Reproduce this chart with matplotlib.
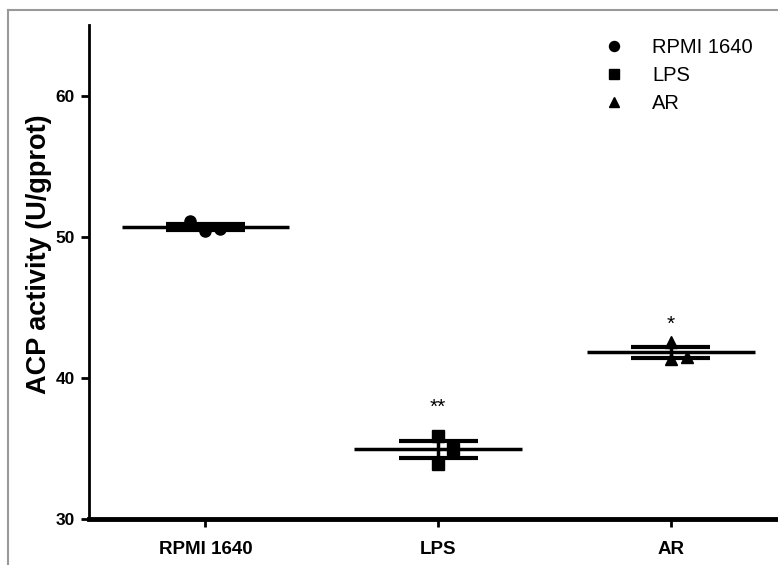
import matplotlib
matplotlib.use('Agg')
import matplotlib.pyplot as plt
import numpy as np

# ===== data =====
groups = ['RPMI 1640', 'LPS', 'AR']
rpmi_vals = [51.13, 50.38, 50.55]
lps_vals = [35.90, 33.92, 34.96]
ar_vals = [42.55, 41.35, 41.50]
sig_marks = ['', '**', '*']

values = [rpmi_vals, lps_vals, ar_vals]
markers = ['o', 's', '^']
jitter = [[-0.064, 0.0, 0.064], [0.0, 0.0, 0.064], [0.0, 0.0, 0.068]]
sig_y = [None, 37.9, 43.8]

plt.rcParams['font.family'] = ['Liberation Sans', 'DejaVu Sans']

fig = plt.figure(figsize=(7.78, 5.65), dpi=100)
ax = fig.add_axes([0.1144, 0.0814, 0.8856, 0.8744])

for i, vals in enumerate(values):
    vals = np.array(vals)
    m = vals.mean()
    sem = vals.std(ddof=1) / np.sqrt(len(vals))
    xs = i + np.array(jitter[i])
    ax.plot(xs, vals, ls='none', marker=markers[i], color='black', ms=8,
            label=groups[i], zorder=3)
    # mean line
    ax.hlines(m, i - 0.36, i + 0.36, color='black', lw=2.5, zorder=4)
    # SEM bars
    ax.hlines([m - sem, m + sem], i - 0.17, i + 0.17, color='black', lw=3, zorder=4)
    ax.vlines(i, m - sem, m + sem, color='black', lw=2.5, zorder=4)
    if sig_marks[i]:
        ax.text(i, sig_y[i], sig_marks[i], ha='center', va='center', fontsize=15)

ax.set_xlim(-0.5, 2.46)
ax.set_ylim(30, 65)
ax.set_yticks([30, 40, 50, 60])
ax.set_xticks(range(3))
ax.set_xticklabels(groups, fontsize=13.5, fontweight='bold')
for lbl in ax.get_yticklabels():
    lbl.set_fontsize(12.5)
    lbl.set_fontweight('bold')
ax.set_ylabel('ACP activity (U/gprot)', fontsize=19.5, fontweight='bold')
ax.yaxis.set_label_coords(-0.054, 0.536)

ax.spines['top'].set_visible(False)
ax.spines['right'].set_visible(False)
ax.spines['left'].set_linewidth(2)
ax.spines['bottom'].set_linewidth(3.5)
ax.tick_params(axis='both', direction='out', length=6, width=2, pad=4)
ax.tick_params(axis='x', pad=10)

ax.legend(loc='upper right', bbox_to_anchor=(0.99, 1.01), frameon=False,
          fontsize=14.5, handletextpad=0.9, labelspacing=0.45, markerscale=0.9)

# grey frame of the original panel
fig.add_artist(plt.Line2D([8 / 778, 1.0], [1 - 10 / 565, 1 - 10 / 565],
                          transform=fig.transFigure, color='#999999', lw=1.5))
fig.add_artist(plt.Line2D([8 / 778, 8 / 778], [0, 1 - 10 / 565],
                          transform=fig.transFigure, color='#999999', lw=1.5))

fig.savefig('out.png', dpi=100)
